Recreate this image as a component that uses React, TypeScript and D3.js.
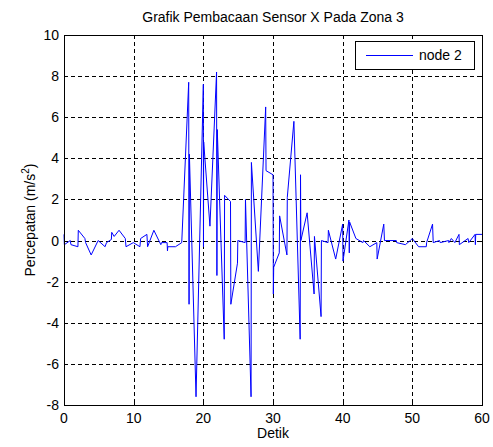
import { useEffect, useRef } from 'react';
import * as d3 from 'd3';

const times = [
  0, 0.05, 0.9, 1.0, 2.0, 2.05, 3.0, 3.1, 3.9, 4.9, 5.9, 6.1, 6.8, 6.85, 7.2, 7.9, 8.8, 8.9, 9.95,
  10.9, 11.0, 11.9, 12.0, 12.9, 13.9, 14.0, 14.8, 14.85, 14.9, 16.0, 16.9,
  17.9, 17.95, 18.0, 18.95, 20.0, 20.02, 20.05, 20.95, 21.9, 21.95, 22.0, 23.0, 23.05,
  23.9, 23.95, 24.9, 24.95, 26.0, 26.05, 26.85, 26.9, 27.9, 28.95, 29.0, 30.0, 30.05, 30.1,
  30.9, 30.95, 32.0, 32.05, 33.0, 33.9, 33.95, 34.0, 34.9, 35.9, 35.95, 36.9, 36.95,
  37.9, 37.95, 39.0, 40.0, 40.05, 40.9, 40.95, 41.0, 41.9, 42.9, 43.0, 43.9, 44.9, 44.95,
  45.9, 46.0, 47.7, 47.75, 49.0, 49.7, 50.0, 50.9, 52.0, 52.05, 52.9, 53.0, 53.9, 54.0,
  55.2, 55.25, 55.6, 56.1, 56.7, 56.75, 58.0, 58.1, 59.0, 59.05, 59.1, 60.0
];

const accel = [
  0.3, -0.2, 0.0, -0.2, -0.3, 0.5, 0.1, -0.1, -0.7, 0.0, -0.3, -0.1, 0.05, 0.4, 0.2, 0.5, 0.1, -0.3, -0.1,
  -0.3, 0.1, 0.3, -0.3, 0.5, -0.2, -0.1, -0.1, -0.5, -0.3, -0.3, -0.1,
  7.7, -3.1, 4.2, -7.6, 7.6, -0.3, 4.8, 0.7, 8.2, -1.7, 5.4, -4.8, 2.2,
  1.9, -3.1, -1.1, 0.0, -0.1, 2.0, -7.6, 3.8, -1.5, 6.5, 3.4, 3.2, -2.6, -1.3,
  -0.6, 1.2, -0.7, 2.1, 5.8, -4.8, 3.2, 0.0, 1.35, -2.6, 0.2, -3.7, 0.0,
  -0.1, 0.5, -0.9, 0.8, -1.0, 1.0, -0.6, 0.9, 0.1, -0.1, 0.0, -0.3, -0.1, -0.9,
  0.8, 0.0, 0.0, -0.1, -0.2, 0.0, 0.1, -0.3, -0.3, -0.1, 0.8, -0.1, 0.0, -0.1,
  0.0, -0.1, 0.1, -0.1, 0.3, -0.2, 0.1, -0.1, 0.3, -0.2, 0.3, 0.3
];

const xTicks = [0, 10, 20, 30, 40, 50, 60];
const yTicks = [-8, -6, -4, -2, 0, 2, 4, 6, 8, 10];

const App = () => {
  const svgRef = useRef<SVGSVGElement>(null);

  useEffect(() => {
    const w = 493;
    const h = 447;
    const margin = { top: 35, bottom: 42, left: 64, right: 11 };
    const width = w - margin.left - margin.right;
    const height = h - margin.top - margin.bottom;
    const font = '"Liberation Sans", Arial, Helvetica, sans-serif';

    const svg = d3.select(svgRef.current);
    svg.selectAll('*').remove();
    svg.attr('width', w).attr('height', h);

    const x = d3.scaleLinear().domain([0, 60]).range([0, width]);
    const y = d3.scaleLinear().domain([-8, 10]).range([height, 0]);

    const g = svg.append('g').attr('transform', `translate(${margin.left}, ${margin.top})`);

    // grid
    g.selectAll('.gx')
      .data(xTicks.slice(1, -1))
      .enter().append('line')
      .attr('x1', d => Math.round(x(d)) + 0.5)
      .attr('x2', d => Math.round(x(d)) + 0.5)
      .attr('y1', 0).attr('y2', height)
      .attr('stroke', '#000').attr('stroke-dasharray', '4,3');
    g.selectAll('.gy')
      .data(yTicks.slice(1, -1))
      .enter().append('line')
      .attr('y1', d => Math.round(y(d)) + 0.5)
      .attr('y2', d => Math.round(y(d)) + 0.5)
      .attr('x1', 0).attr('x2', width)
      .attr('stroke', '#000').attr('stroke-dasharray', '4,3');

    // data line
    const pts: [number, number][] = times.map((t, i) => [t, accel[i]]);
    const line = d3.line<[number, number]>().x(d => x(d[0])).y(d => y(d[1]));
    g.append('path')
      .datum(pts)
      .attr('d', line)
      .attr('fill', 'none')
      .attr('stroke', '#0000ff')
      .attr('stroke-width', 1);

    // box
    g.append('rect')
      .attr('x', 0.5).attr('y', 0.5)
      .attr('width', width).attr('height', height)
      .attr('fill', 'none').attr('stroke', '#000');

    // inner ticks
    xTicks.forEach(t => {
      const px = Math.round(x(t)) + 0.5;
      g.append('line').attr('x1', px).attr('x2', px).attr('y1', height).attr('y2', height - 4).attr('stroke', '#000');
      g.append('line').attr('x1', px).attr('x2', px).attr('y1', 0).attr('y2', 4).attr('stroke', '#000');
    });
    yTicks.forEach(t => {
      const py = Math.round(y(t)) + 0.5;
      g.append('line').attr('x1', 0).attr('x2', 4).attr('y1', py).attr('y2', py).attr('stroke', '#000');
      g.append('line').attr('x1', width).attr('x2', width - 4).attr('y1', py).attr('y2', py).attr('stroke', '#000');
    });

    // tick labels
    g.selectAll('.xl')
      .data(xTicks)
      .enter().append('text')
      .attr('x', d => x(d))
      .attr('y', height + 18)
      .attr('text-anchor', 'middle')
      .style('font-family', font).style('font-size', '14px')
      .text(d => d);
    g.selectAll('.yl')
      .data(yTicks)
      .enter().append('text')
      .attr('x', -5)
      .attr('y', d => y(d) + 5)
      .attr('text-anchor', 'end')
      .style('font-family', font).style('font-size', '14px')
      .text(d => d);

    // title and labels
    svg.append('text')
      .attr('x', margin.left + width / 2)
      .attr('y', 22)
      .attr('text-anchor', 'middle')
      .style('font-family', font).style('font-size', '14px')
      .text('Grafik Pembacaan Sensor X Pada Zona 3');
    svg.append('text')
      .attr('x', margin.left + width / 2)
      .attr('y', 438)
      .attr('text-anchor', 'middle')
      .style('font-family', font).style('font-size', '14px')
      .text('Detik');
    const yl = svg.append('text')
      .attr('transform', `translate(35, ${margin.top + height / 2}) rotate(-90)`)
      .attr('text-anchor', 'middle')
      .style('font-family', font).style('font-size', '14px');
    yl.append('tspan').text('Percepatan (m/s');
    yl.append('tspan').attr('dy', -6).style('font-size', '10px').text('2');
    yl.append('tspan').attr('dy', 6).text(')');

    // legend
    const lg = svg.append('g');
    lg.append('rect')
      .attr('x', 355.5).attr('y', 41.5).attr('width', 119).attr('height', 28)
      .attr('fill', '#fff').attr('stroke', '#000');
    lg.append('line')
      .attr('x1', 366).attr('x2', 413).attr('y1', 55.5).attr('y2', 55.5)
      .attr('stroke', '#0000ff');
    lg.append('text')
      .attr('x', 419).attr('y', 60)
      .style('font-family', font).style('font-size', '14px')
      .text('node 2');
  }, []);

  return (
    <svg ref={svgRef} style={{ position: 'absolute', left: 0, top: 0, background: '#fff' }}></svg>
  );
};

export default App;
